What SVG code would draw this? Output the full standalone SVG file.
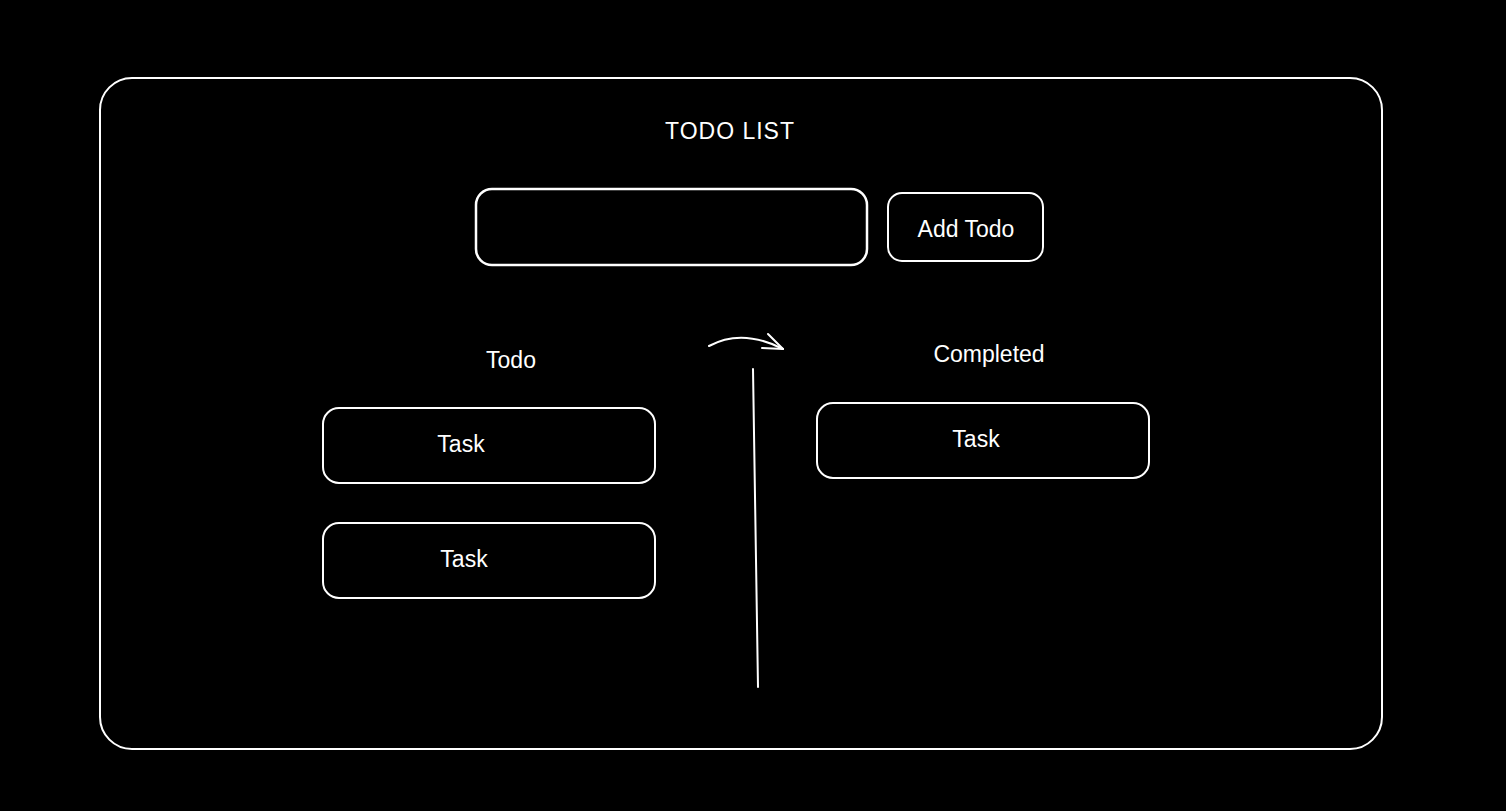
<svg xmlns="http://www.w3.org/2000/svg" width="1506" height="811" viewBox="0 0 1506 811">
<style>
.box{fill:none;stroke:#ffffff;stroke-width:2;stroke-linecap:round;stroke-linejoin:round}
.ln{fill:none;stroke:#ffffff;stroke-width:2;stroke-linecap:round;stroke-linejoin:round}
.t{fill:#ffffff;font-family:"Liberation Sans","DejaVu Sans",sans-serif;font-size:23px;text-anchor:middle}
</style>
<rect x="0" y="0" width="1506" height="811" fill="#000000"/>
<g id="frame"><rect class="box" x="100" y="78" width="1282" height="671" rx="32"/></g>
<g id="title"><text class="t" x="730" y="139" letter-spacing="1">TODO LIST</text></g>
<g id="input"><rect class="box" x="476" y="189" width="391" height="76" rx="16" style="stroke-width:2.5"/></g>
<g id="add-todo"><rect class="box" x="888" y="193" width="155" height="68" rx="14"/><text class="t" x="966" y="237">Add Todo</text></g>
<g id="todo-label"><text class="t" x="511" y="368">Todo</text></g>
<g id="completed-label"><text class="t" x="989" y="362">Completed</text></g>
<g id="task1"><rect class="box" x="323" y="408" width="332" height="75" rx="16"/><text class="t" x="461" y="452">Task</text></g>
<g id="task2"><rect class="box" x="323" y="523" width="332" height="75" rx="16"/><text class="t" x="464" y="567">Task</text></g>
<g id="task3"><rect class="box" x="817" y="403" width="332" height="75" rx="16"/><text class="t" x="976" y="447">Task</text></g>
<g id="connectors">
<path class="ln" d="M753 369 L758 687"/>
<path class="ln" d="M709 346 Q742 328 783 349"/>
<path class="ln" d="M768 334 L783 349 L762 348"/>
</g>
</svg>
